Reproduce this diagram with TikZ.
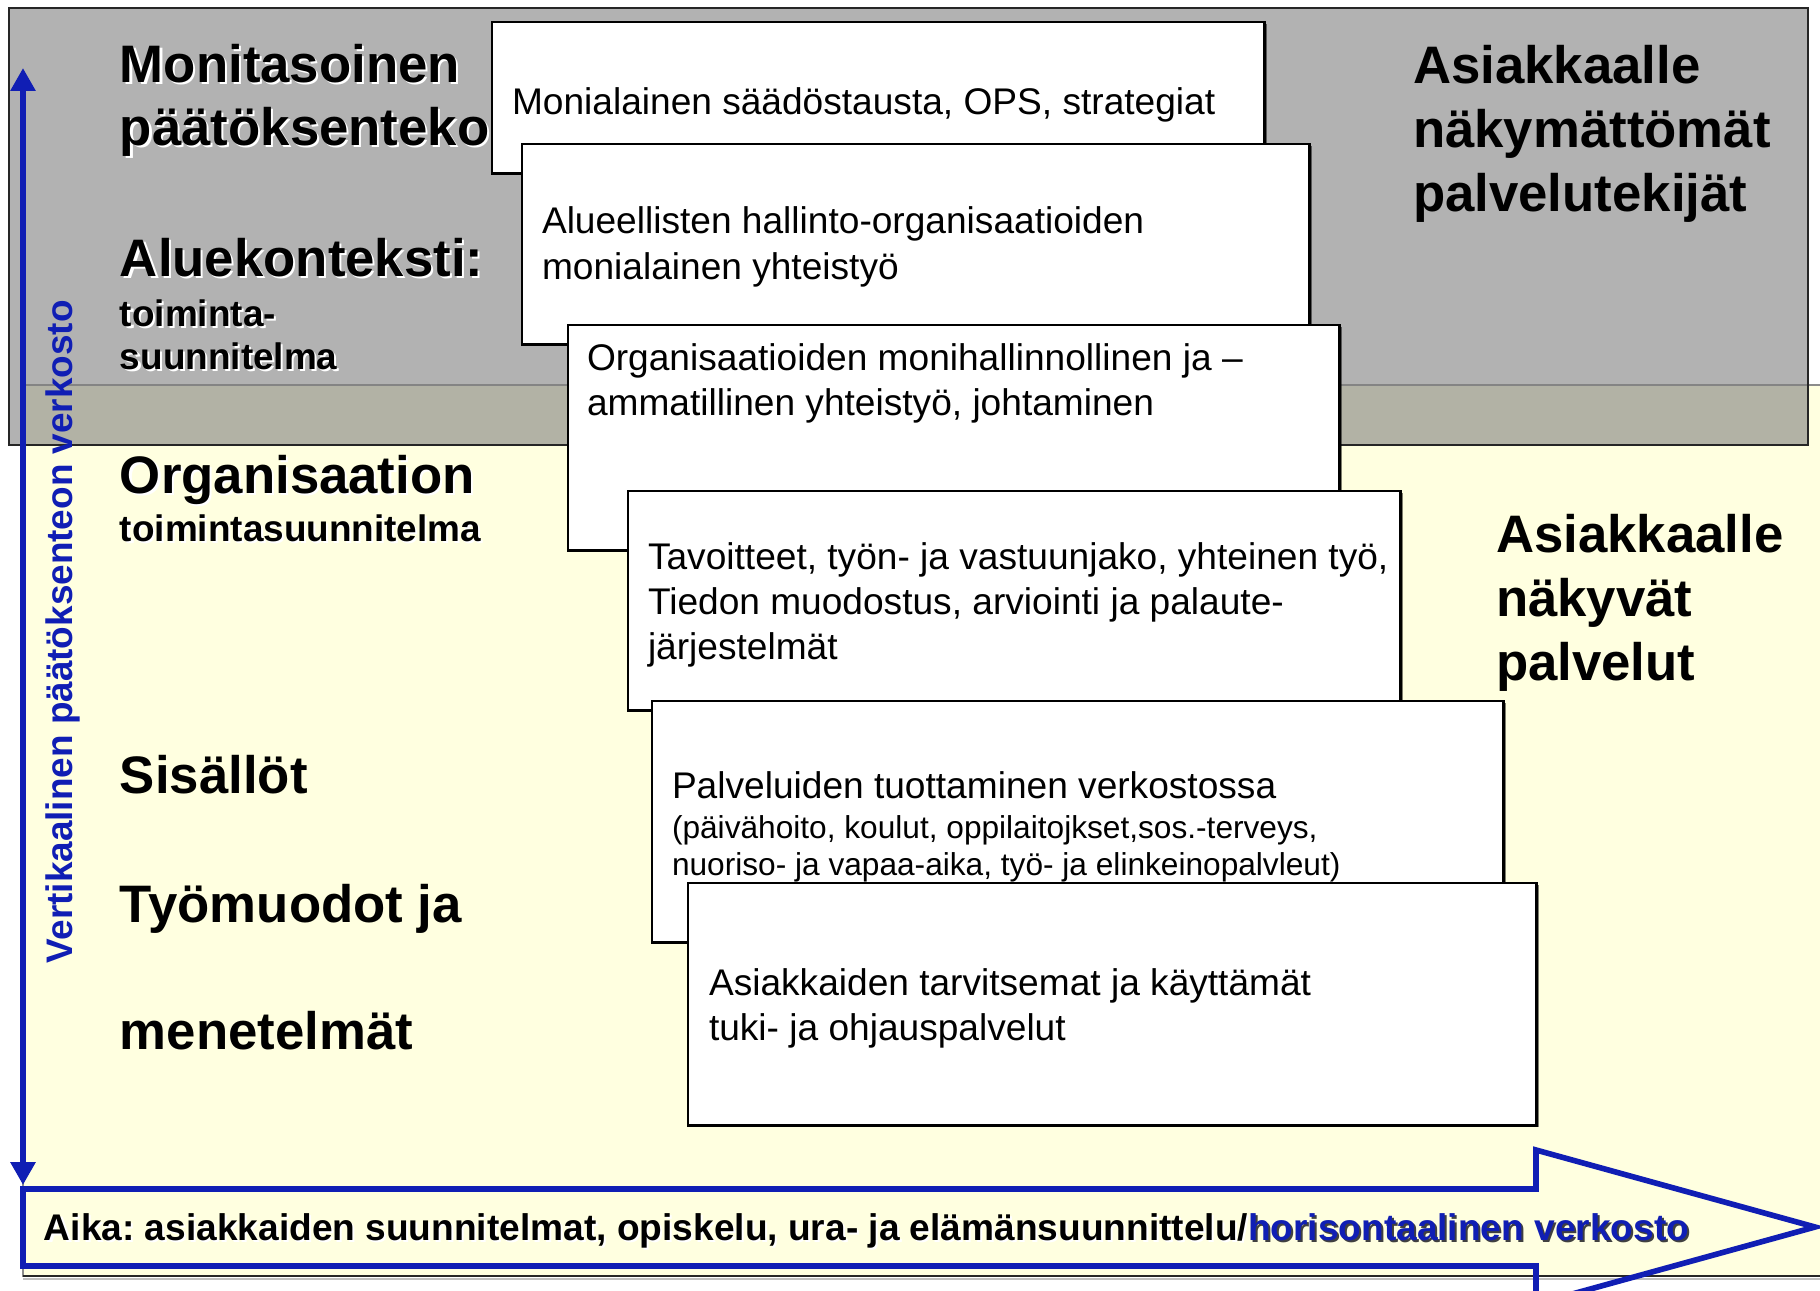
\documentclass[tikz,border=0pt]{standalone}
\usepackage{fontspec}
\setmainfont{Liberation Sans}
\usetikzlibrary{arrows.meta,shadows}
\definecolor{bgyellow}{RGB}{255,255,224}
\definecolor{topgray}{RGB}{127,127,127}
\definecolor{netblue}{RGB}{16,30,180}
\frenchspacing
\newcommand\glow[2]{\makebox[0pt][l]{\hspace{0.57pt}\raisebox{-0.57pt}{\color{#1}#2}}#2}
\tikzset{
  lbl/.style={inner sep=0pt, outer sep=0pt, anchor=base west},
  biglbl/.style={lbl, font=\fontsize{15}{18}\selectfont\bfseries},
  midlbl/.style={lbl, font=\fontsize{10.5}{12.6}\selectfont\bfseries},
  boxtxt/.style={lbl, font=\fontsize{10.55}{12.6}\selectfont},
  smalltxt/.style={lbl, font=\fontsize{9}{10.8}\selectfont},
  card/.style={draw=black, line width=0.8pt, fill=white, anchor=north west,
    inner sep=0pt, outer sep=0pt,
    drop shadow={shadow xshift=0.6pt, shadow yshift=-0.6pt, opacity=0.5, fill=black}},
  vtip/.tip={Triangle[width=6.8pt,length=6.5pt]},
}
\begin{document}
\begin{tikzpicture}[x=0.01cm,y=-0.01cm]
\useasboundingbox (0,0) rectangle (1820,1290);
\fill[white] (0,0) rectangle (1820,1290);
\clip (0,0) rectangle (1820,1290);
% background areas
\draw[fill=bgyellow, draw=black!45, line width=0.6pt] (23,385) rectangle (1850,1276);
\draw[black!25, line width=0.8pt] (23,1279) -- (1850,1279);
\draw[black!85, line width=0.8pt] (23,1276) -- (1850,1276);
\draw[fill=topgray, fill opacity=0.6, draw=black!85, line width=0.8pt] (9,8) rectangle (1808,445);
% left labels
\node[biglbl] (l1) at (120,82) {\glow{white}{Monitasoinen}};
\node[biglbl] (l2) at (120,145) {\glow{white}{päätöksenteko}};
\node[biglbl] (l3) at (120,276) {\glow{white}{Aluekonteksti:}};
\node[midlbl] (l4) at (120,326) {\glow{white}{toiminta-}};
\node[midlbl] (l5) at (120,369) {\glow{white}{suunnitelma}};
\node[biglbl] (l6) at (120,493) {\glow{white}{Organisaation}};
\node[midlbl] (l7) at (120,541) {\glow{white}{toimintasuunnitelma}};
\node[biglbl] (l8) at (120,793) {Sisällöt};
\node[biglbl] (l9) at (120,922) {Työmuodot ja};
\node[biglbl] (l10) at (120,1049) {menetelmät};
% right labels
\node[biglbl] (r1) at (1413,83) {Asiakkaalle};
\node[biglbl] (r2) at (1413,147) {näkymättömät};
\node[biglbl] (r3) at (1413,211) {palvelutekijät};
\node[biglbl] (r4) at (1496,552) {Asiakkaalle};
\node[biglbl] (r5) at (1496,616) {näkyvät};
\node[biglbl] (r6) at (1496,680) {palvelut};
% stacked cards
\node[card, minimum width=7.72cm, minimum height=1.51cm] (b1) at (492,22) {};
\node[boxtxt] (t11) at (512,114) {Monialainen säädöstausta, OPS, strategiat};
\node[card, minimum width=7.87cm, minimum height=2.00cm] (b2) at (522,144) {};
\node[boxtxt] (t21) at (542,233) {Alueellisten hallinto-organisaatioiden};
\node[boxtxt] (t22) at (542,279) {monialainen yhteistyö};
\node[card, minimum width=7.71cm, minimum height=2.25cm] (b3) at (568,325) {};
\node[boxtxt] (t31) at (587,370) {Organisaatioiden monihallinnollinen ja –};
\node[boxtxt] (t32) at (587,415) {ammatillinen yhteistyö, johtaminen};
\node[card, minimum width=7.72cm, minimum height=2.19cm] (b4) at (628,491) {};
\node[boxtxt] (t41) at (648,569) {Tavoitteet, työn- ja vastuunjako, yhteinen työ,};
\node[boxtxt] (t42) at (648,614) {Tiedon muodostus, arviointi ja palaute-};
\node[boxtxt] (t43) at (648,659) {järjestelmät};
\node[card, minimum width=8.51cm, minimum height=2.41cm] (b5) at (652,701) {};
\node[boxtxt] (t51) at (672,798) {Palveluiden tuottaminen verkostossa};
\node[smalltxt] (t52) at (672,838) {(päivähoito, koulut, oppilaitojkset,sos.-terveys,};
\node[smalltxt] (t53) at (672,875) {nuoriso- ja vapaa-aika, työ- ja elinkeinopalvleut)};
\node[card, minimum width=8.48cm, minimum height=2.42cm] (b6) at (688,883) {};
\node[boxtxt] (t61) at (709,995) {Asiakkaiden tarvitsemat ja käyttämät};
\node[boxtxt] (t62) at (709,1040) {tuki- ja ohjauspalvelut};
% vertical arrow and its label
\coordinate (vtop) at (23,68);
\coordinate (vbot) at (23,1185);
\draw[netblue, line width=1.7pt, {vtip}-{vtip}] (vbot) -- (vtop);
\node[midlbl, text=netblue, rotate=90] (vert) at (72,963) {Vertikaalinen päätöksenteon verkosto};
% horizontal big arrow
\coordinate (a1) at (23,1189);
\coordinate (a2) at (1536,1189);
\coordinate (a3) at (1536,1150);
\coordinate (a4) at (1815,1227);
\coordinate (a5) at (1536,1304);
\coordinate (a6) at (1536,1266);
\coordinate (a7) at (23,1266);
\draw[netblue, line width=1.6pt, line join=miter] (a1) -- (a2) -- (a3) -- (a4) -- (a5) -- (a6) -- (a7) -- cycle;
\node[midlbl, font=\fontsize{10.55}{12.6}\selectfont\bfseries] (aika) at (44,1240)
  {\glow{white}{Aika: asiakkaiden suunnitelmat, opiskelu, ura- ja elämänsuunnittelu/}\textcolor{netblue}{\glow{black!75}{horisontaalinen verkosto}}};
\end{tikzpicture}
\end{document}
